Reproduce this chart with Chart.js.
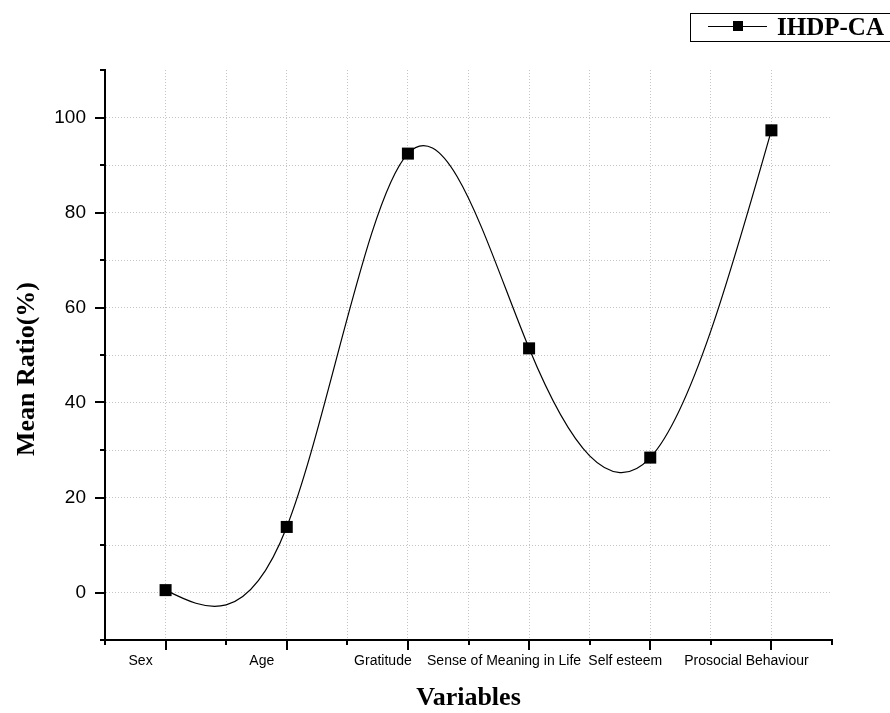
<!DOCTYPE html>
<html>
<head>
<meta charset="utf-8">
<script src="https://cdn.jsdelivr.net/npm/chart.js@4.4.1/dist/chart.umd.min.js"></script>
<style>
  html, body { margin: 0; padding: 0; background: #fff; }
  #wrap { width: 890px; height: 713px; position: relative; }
</style>
</head>
<body>
<div id="wrap"><canvas id="c" width="890" height="713"></canvas></div>
<script>
// ---- data ----
const categories = ['Sex', 'Age', 'Gratitude', 'Sense of Meaning in Life', 'Self esteem', 'Prosocial Behaviour'];
const meanRatio = [0.5, 13.8, 92.4, 51.4, 28.4, 97.3];
const seriesName = 'IHDP-CA';
const yMin = -10, yMax = 110, yStep = 10, yLabelStep = 20;
const xTitle = 'Variables';
const yTitle = 'Mean Ratio(%)';

// natural cubic spline through the points (as Origin draws it), computed from the library's pixel positions
const naturalSpline = {
  id: 'naturalSpline',
  beforeDatasetsDraw(chart) {
    chart.data.datasets.forEach((ds, di) => {
      const meta = chart.getDatasetMeta(di);
      const pts = meta.data;
      const n = pts.length;
      if (n < 3) return;
      const xs = pts.map(p => p.x), ys = pts.map(p => p.y);
      const h = [];
      for (let i = 0; i < n - 1; i++) h[i] = xs[i + 1] - xs[i];
      const M = new Array(n).fill(0);
      const a = [], b = [], c = [], d = [];
      for (let i = 1; i < n - 1; i++) {
        a[i] = h[i - 1]; b[i] = 2 * (h[i - 1] + h[i]); c[i] = h[i];
        d[i] = 6 * ((ys[i + 1] - ys[i]) / h[i] - (ys[i] - ys[i - 1]) / h[i - 1]);
      }
      // Thomas algorithm
      const cp = [], dp = [];
      for (let i = 1; i < n - 1; i++) {
        const den = b[i] - (i > 1 ? a[i] * cp[i - 1] : 0);
        cp[i] = c[i] / den;
        dp[i] = (d[i] - (i > 1 ? a[i] * dp[i - 1] : 0)) / den;
      }
      for (let i = n - 2; i >= 1; i--) {
        M[i] = dp[i] - (i < n - 2 ? cp[i] * M[i + 1] : 0);
      }
      pts[0].cp1x = xs[0]; pts[0].cp1y = ys[0];
      pts[n - 1].cp2x = xs[n - 1]; pts[n - 1].cp2y = ys[n - 1];
      for (let i = 0; i < n - 1; i++) {
        const sl = (ys[i + 1] - ys[i]) / h[i];
        const s0 = sl - h[i] * (2 * M[i] + M[i + 1]) / 6;
        const s1 = sl + h[i] * (M[i] + 2 * M[i + 1]) / 6;
        pts[i].cp2x = xs[i] + h[i] / 3; pts[i].cp2y = ys[i] + s0 * h[i] / 3;
        pts[i + 1].cp1x = xs[i + 1] - h[i] / 3; pts[i + 1].cp1y = ys[i + 1] - s1 * h[i] / 3;
      }
      meta.dataset._pointsUpdated = true;
    });
  }
};

// tick marks, axis titles and the framed legend
const decorations = {
  id: 'decorations',
  afterDraw(chart) {
    const ctx = chart.ctx;
    const area = chart.chartArea;
    const xs = chart.scales.x, ys = chart.scales.y;
    ctx.save();
    ctx.strokeStyle = '#000';
    ctx.lineWidth = 2;
    // y ticks
    for (let v = yMin; v <= yMax; v += yStep) {
      const py = Math.round(ys.getPixelForValue(v));
      const len = (v % yLabelStep === 0) ? 10 : 5;
      ctx.beginPath();
      ctx.moveTo(area.left - len, py);
      ctx.lineTo(area.left, py);
      ctx.stroke();
    }
    // x ticks
    for (let v = -0.5; v <= categories.length - 0.5; v += 0.5) {
      const px = Math.round(xs.getPixelForValue(v));
      const len = Number.isInteger(v) ? 10 : 5;
      ctx.beginPath();
      ctx.moveTo(px, area.bottom);
      ctx.lineTo(px, area.bottom + len);
      ctx.stroke();
    }
    // axis titles
    ctx.fillStyle = '#000';
    ctx.font = 'bold 26px "Liberation Serif", "Times New Roman", serif';
    ctx.textAlign = 'center';
    ctx.textBaseline = 'alphabetic';
    ctx.fillText(xTitle, (area.left + area.right) / 2, 705);
    ctx.save();
    ctx.translate(34, 369);
    ctx.rotate(-Math.PI / 2);
    ctx.fillText(yTitle, 0, 0);
    ctx.restore();
    // legend
    ctx.lineWidth = 1;
    ctx.strokeRect(690.5, 13.5, 220, 28);
    ctx.beginPath();
    ctx.moveTo(708, 26.5);
    ctx.lineTo(767, 26.5);
    ctx.stroke();
    ctx.fillRect(733, 21, 10, 10);
    ctx.textAlign = 'left';
    ctx.font = 'bold 25px "Liberation Serif", "Times New Roman", serif';
    ctx.fillText(chart.data.datasets[0].label, 777, 35);
    ctx.restore();
  }
};

const gridColor = (ctx, lo, hi) => {
  const v = ctx.tick ? ctx.tick.value : null;
  return (v === lo || v === hi) ? 'rgba(0,0,0,0)' : '#c4c4c4';
};

new Chart(document.getElementById('c'), {
  type: 'line',
  data: {
    datasets: [{
      label: seriesName,
      data: meanRatio.map((v, i) => ({ x: i, y: v })),
      borderColor: '#000',
      borderWidth: 1.2,
      backgroundColor: '#000',
      pointStyle: 'rect',
      pointRadius: 8.5,
      pointBorderWidth: 0,
      pointBackgroundColor: '#000',
      tension: 0.4,
      fill: false
    }]
  },
  options: {
    responsive: false,
    animation: false,
    devicePixelRatio: 1,
    layout: { padding: { top: 70, right: 58, bottom: 0, left: 0 } },
    plugins: { legend: { display: false }, tooltip: { enabled: false } },
    scales: {
      x: {
        type: 'linear',
        min: -0.5,
        max: categories.length - 0.5,
        afterFit: s => { s.height = 73; },
        afterBuildTicks: s => {
          const t = [];
          for (let v = -0.5; v <= categories.length - 0.5; v += 0.5) t.push({ value: v });
          s.ticks = t;
        },
        ticks: {
          autoSkip: false,
          maxRotation: 0,
          padding: 13,
          labelOffset: -25,
          color: '#000',
          font: { family: '"Liberation Sans", Arial, sans-serif', size: 14 },
          callback: v => Number.isInteger(v) ? categories[v] : ''
        },
        grid: {
          drawTicks: false,
          lineWidth: 1,
          color: ctx => gridColor(ctx, -0.5, categories.length - 0.5)
        },
        border: { display: true, color: '#000', width: 2, dash: [1, 2] }
      },
      y: {
        type: 'linear',
        min: yMin,
        max: yMax,
        afterFit: s => { s.width = 105; },
        ticks: {
          stepSize: yStep,
          padding: 19,
          color: '#000',
          font: { family: '"Liberation Sans", Arial, sans-serif', size: 19 },
          callback: v => (v % yLabelStep === 0 && v > yMin && v < yMax) ? String(v) : ''
        },
        grid: {
          drawTicks: false,
          lineWidth: 1,
          color: ctx => gridColor(ctx, yMin, yMax)
        },
        border: { display: true, color: '#000', width: 2, dash: [1, 2] }
      }
    }
  },
  plugins: [naturalSpline, decorations]
});
</script>
</body>
</html>
